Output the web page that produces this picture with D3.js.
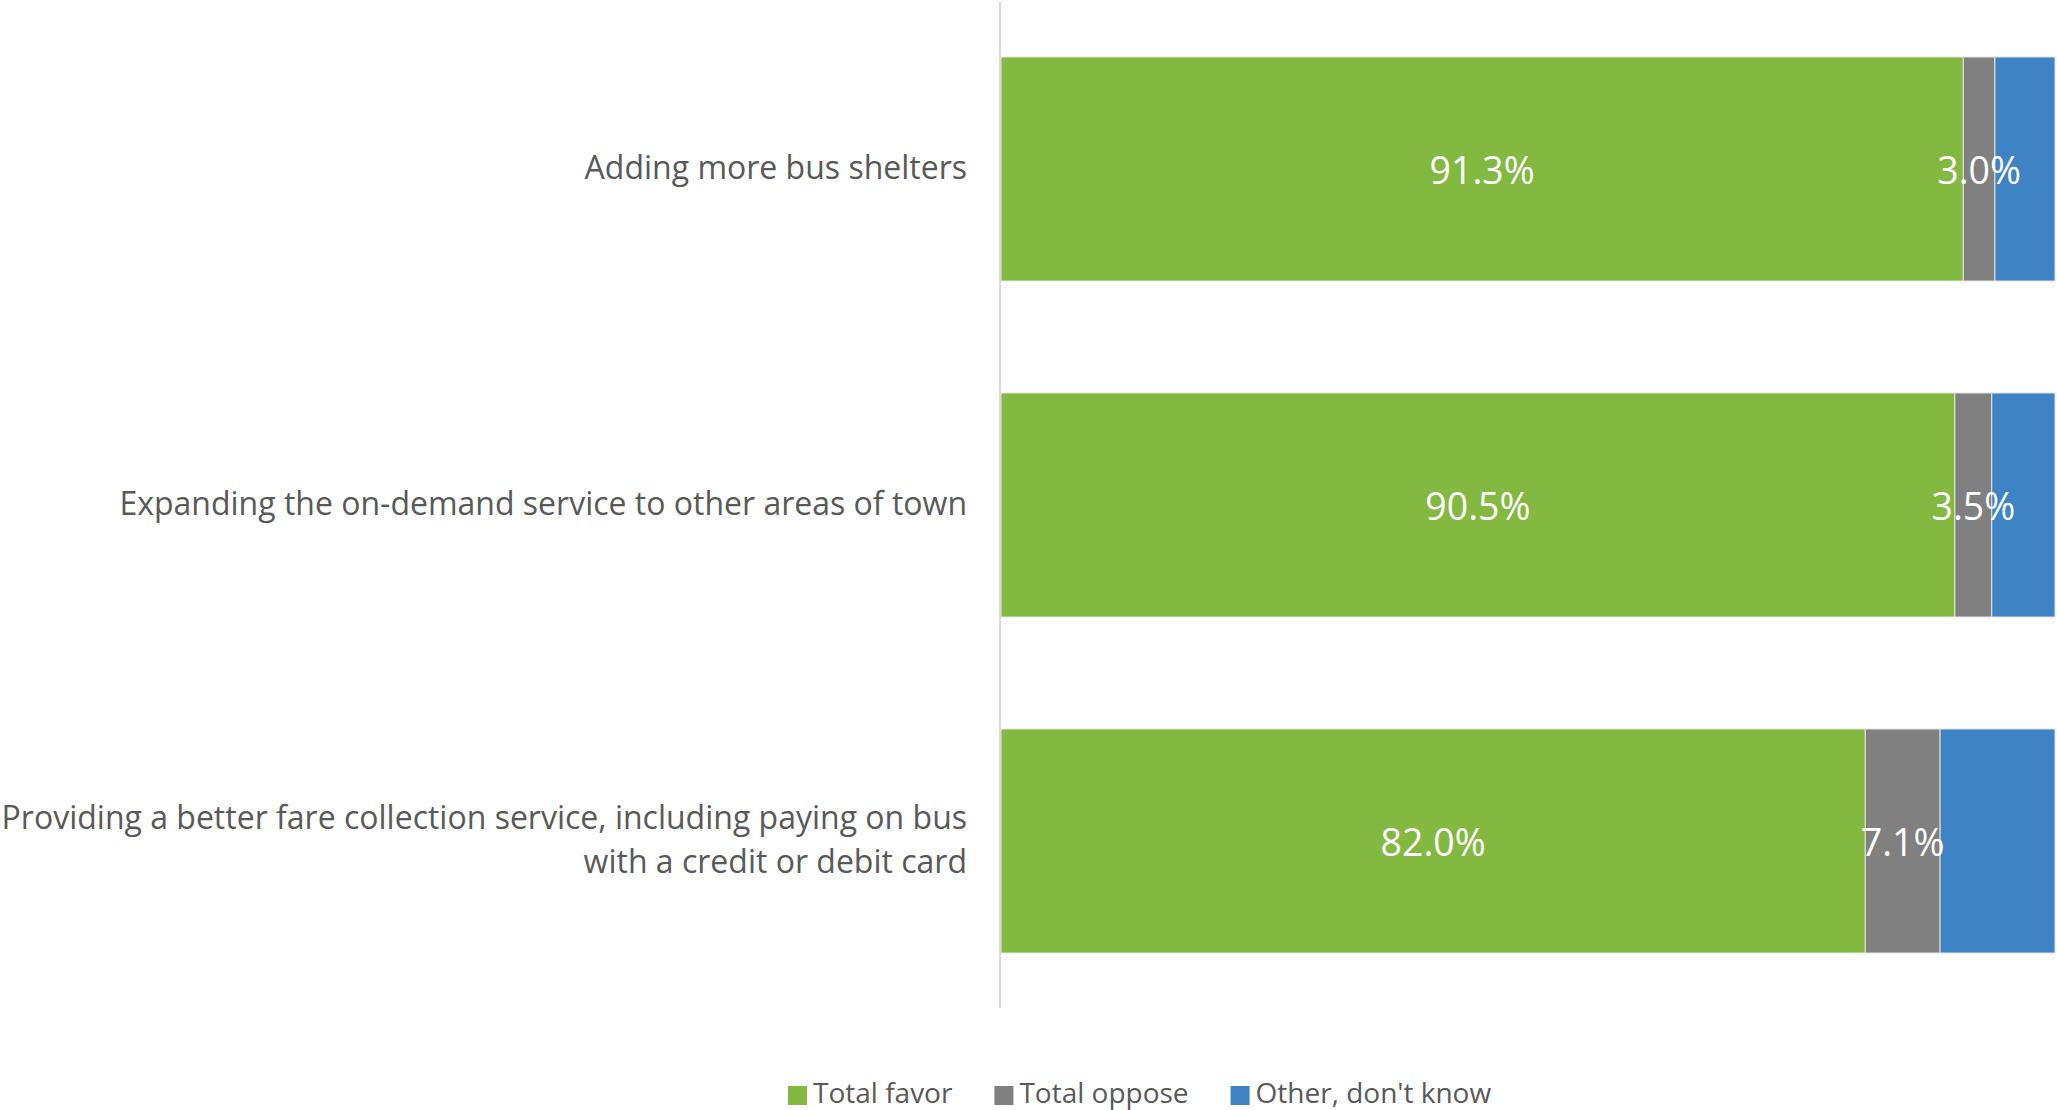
<!DOCTYPE html>
<html>
<head>
<meta charset="utf-8">
<script src="https://cdn.jsdelivr.net/npm/d3@7"></script>
<style>
  html, body { margin: 0; padding: 0; background: #ffffff; }
  svg { display: block; font-family: "Open Sans", "Noto Sans", sans-serif; }
</style>
</head>
<body>
<svg id="chart" width="2057" height="1110"></svg>
<script>
// Survey items (top to bottom)
const categories = [
  "Adding more bus shelters",
  "Expanding the on-demand service to other areas of town",
  "Providing a better fare collection service, including paying on bus with a credit or debit card"
];
// Shares per response, in percent
const favor  = [91.3, 90.5, 82.0];
const oppose = [3.0, 3.5, 7.1];
const other  = [5.7, 6.0, 10.9];

const seriesNames  = ["Total favor", "Total oppose", "Other, don't know"];
const seriesColors = ["#84b941", "#808080", "#3e83c4"];
const labelledSeries = [true, true, false];

const svg = d3.select("#chart");

const x = d3.scaleLinear().domain([0, 100]).range([1001, 2055]);
const y = d3.scaleBand().domain(categories).range([1, 1009]).paddingInner(1/3).paddingOuter(1/6);

const rows = categories.map((c, i) => ({ cat: c, v: [favor[i], oppose[i], other[i]] }));
const stack = d3.stack().keys([0, 1, 2]).value((d, k) => d.v[k]);
const layers = stack(rows);

// Stacked segments
const g = svg.append("g");
layers.forEach((layer, k) => {
  g.selectAll(null).data(layer).enter().append("rect")
    .attr("x", d => x(d[0]))
    .attr("y", d => y(d.data.cat))
    .attr("width", d => x(d[1]) - x(d[0]))
    .attr("height", y.bandwidth())
    .attr("fill", seriesColors[k])
    .attr("stroke", "#e4e4e4")
    .attr("stroke-width", 1);
});

// Value labels in the segments
layers.forEach((layer, k) => {
  if (!labelledSeries[k]) return;
  g.selectAll(null).data(layer).enter().append("text")
    .attr("x", d => (x(d[0]) + x(d[1])) / 2)
    .attr("y", d => y(d.data.cat) + y.bandwidth() / 2 + 15)
    .attr("text-anchor", "middle")
    .attr("fill", "#ffffff")
    .style("font-size", "37.5px")
    .text(d => d3.format(".1f")(d.data.v[k]) + "%");
});

// Category axis line
svg.append("line")
  .attr("x1", 1000).attr("x2", 1000)
  .attr("y1", 2).attr("y2", 1008)
  .attr("stroke", "#d9d9d9").attr("stroke-width", 2);

// Category labels, wrapped to the space left of the axis
const labelSize = 32;
const maxLabelWidth = 990;
const lineH = 43.5;
categories.forEach(cat => {
  const t = svg.append("text")
    .attr("text-anchor", "end")
    .attr("fill", "#595959")
    .style("font-size", labelSize + "px");
  const words = cat.split(" ");
  const lines = [];
  let cur = [];
  const probe = svg.append("text").style("font-size", labelSize + "px");
  words.forEach(w => {
    const test = cur.concat([w]).join(" ");
    probe.text(test);
    if (probe.node().getComputedTextLength() > maxLabelWidth && cur.length) {
      lines.push(cur.join(" "));
      cur = [w];
    } else {
      cur.push(w);
    }
  });
  lines.push(cur.join(" "));
  probe.remove();
  const cy = y(cat) + y.bandwidth() / 2;
  const first = cy + 10 - (lines.length - 1) * lineH / 2;
  lines.forEach((ln, i) => {
    t.append("tspan").attr("x", 967).attr("y", first + i * lineH).text(ln);
  });
});

// Legend
const legend = svg.append("g");
let lx = 788;
seriesNames.forEach((name, k) => {
  legend.append("rect")
    .attr("x", lx).attr("y", 1086)
    .attr("width", 19).attr("height", 19)
    .attr("fill", seriesColors[k]);
  const t = legend.append("text")
    .attr("x", lx + 25).attr("y", 1103)
    .attr("fill", "#595959")
    .style("font-size", "28px")
    .text(name);
  lx += 25 + t.node().getComputedTextLength() + 42;
});
</script>
</body>
</html>
